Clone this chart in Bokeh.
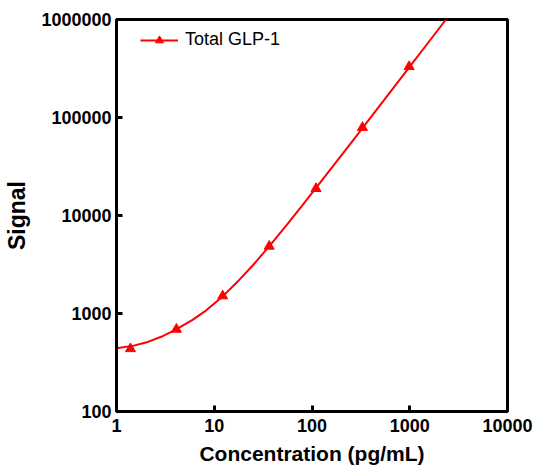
from bokeh.plotting import figure
from bokeh.models import Range1d, FixedTicker, PrintfTickFormatter, Legend, LegendItem
from bokeh.embed import file_html
from bokeh.resources import INLINE

# measured standards (pg/mL) and signal
conc = [1.39, 4.1, 12.2, 36.5, 110, 328, 985]
signal = [437, 690, 1510, 4850, 18800, 79000, 330000]

# fitted curve
fit_conc = [1, 1.5, 2, 3, 4, 6, 8, 12, 18, 25, 37, 55, 80, 111, 170, 250, 333, 500, 700, 1000, 1500, 2350]
fit_signal = [441, 470, 505, 590, 680, 860, 1050, 1470, 2200, 3126, 4935, 7995, 12755, 19316,
              33350, 54800, 79380, 134300, 207700, 330000, 559200, 1000000]

x_ticks = [1, 10, 100, 1000, 10000]
y_ticks = [100, 1000, 10000, 100000, 1000000]
series_name = "Total GLP-1"

FONT = "Liberation Sans"
RED = "#FF0000"

p = figure(width=533, height=467, x_axis_type="log", y_axis_type="log",
           x_range=Range1d(x_ticks[0], x_ticks[-1]), y_range=Range1d(y_ticks[0], y_ticks[-1]),
           output_backend="svg", toolbar_location=None, title=None,
           min_border_left=116, min_border_right=26, min_border_top=19, min_border_bottom=56)

p.xgrid.visible = False
p.ygrid.visible = False
p.outline_line_color = "black"
p.outline_line_width = 3
p.background_fill_color = "white"
p.border_fill_color = "white"

for ax, ticks in ((p.xaxis[0], x_ticks), (p.yaxis[0], y_ticks)):
    ax.ticker = FixedTicker(ticks=ticks, minor_ticks=[])
    ax.formatter = PrintfTickFormatter(format="%d")
    ax.axis_line_width = 3
    ax.axis_line_color = "black"
    ax.major_tick_in = 6
    ax.major_tick_out = 0
    ax.major_tick_line_width = 3
    ax.minor_tick_line_color = None
    ax.major_label_text_font = FONT
    ax.major_label_text_font_style = "bold"
    ax.major_label_text_font_size = "18px"
    ax.major_label_text_color = "black"
    ax.axis_label_text_font = FONT
    ax.axis_label_text_font_style = "bold"
    ax.axis_label_text_color = "black"

p.xaxis.axis_label = "Concentration (pg/mL)"
p.yaxis.axis_label = "Signal"
p.xaxis.axis_label_text_font_size = "21px"
p.yaxis.axis_label_text_font_size = "23px"
p.xaxis.major_label_standoff = 7
p.xaxis.axis_label_standoff = 7
p.yaxis.major_label_standoff = 5
p.yaxis.axis_label_standoff = 8

line_r = p.line(fit_conc, fit_signal, line_color=RED, line_width=2)
scat_r = p.scatter(conc, signal, marker="triangle", size=10, fill_color=RED, line_color=RED)

legend = Legend(items=[LegendItem(label=series_name, renderers=[line_r, scat_r])],
                location=(24, 361), margin=0, padding=0, spacing=0,
                glyph_width=38, glyph_height=20, label_standoff=7,
                label_text_font=FONT, label_text_font_size="18px", label_text_color="black",
                border_line_color=None, background_fill_alpha=0)
p.add_layout(legend)

open("out.html", "w").write(file_html(p, INLINE))
